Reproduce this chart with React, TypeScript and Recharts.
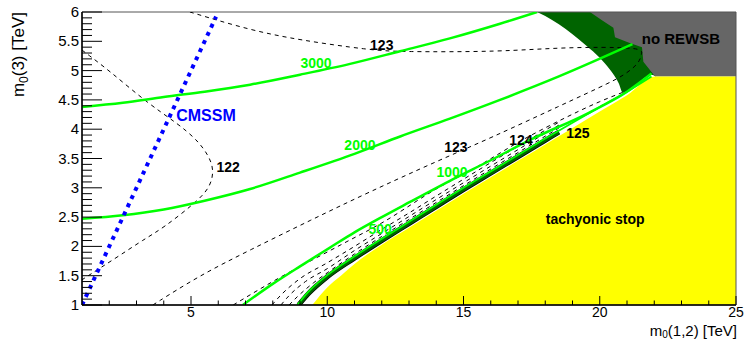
import { ComposedChart, Line, Area, Scatter, XAxis, YAxis, ReferenceArea } from "recharts";

// contours, [m0(1,2), m0(3)] in TeV
const CMSSM = [[1, 1.0], [5.92, 5.92]];

const MH_122 = [
  [1, 5.35], [2, 5.0], [3.39, 4.45], [4.5, 4.1], [5.22, 3.82], [5.65, 3.55], [5.85, 3.3],
  [5.7, 3.0], [5.15, 2.74], [4.0, 2.32], [3.24, 2.11], [2.4, 1.85], [1.66, 1.63], [1, 1.43],
];
const MH_123 = [
  [3.6, 1.0], [5.3, 1.5], [7.17, 1.94], [9.4, 2.45], [11.5, 2.92], [14.1, 3.47], [16, 3.85],
  [18.54, 4.4], [20.5, 4.82], [21.0, 4.96], [21.45, 5.13], [21.55, 5.3], [21.55, 5.4],
  [18.65, 5.4], [16.34, 5.32], [12.67, 5.32], [11.57, 5.35], [9, 5.52], [7.17, 5.69], [4.96, 6.0],
];
const MH_124 = [
  [6.55, 1.0], [8, 1.4], [10.47, 2.02], [12, 2.4], [14, 2.98], [15.5, 3.36], [17.1, 3.8],
  [18.54, 4.15], [20, 4.47], [20.85, 4.63],
];
const MH_125_OUT = [
  [7.97, 1.0], [8.3, 1.17], [9, 1.45], [10, 1.72], [11, 2.0], [12, 2.29], [13, 2.57], [14, 2.86],
  [16, 3.43], [18.5, 4.12],
];
const MH_125_MID = [
  [8.3, 1.0], [8.6, 1.16], [9.2, 1.4], [10, 1.62], [11, 1.93], [12, 2.22], [13, 2.51], [14, 2.8],
  [16, 3.37], [18.5, 4.07],
];
const MH_125_IN = [
  [8.6, 1.0], [8.9, 1.14], [9.5, 1.38], [10, 1.55], [11, 1.87], [12, 2.17], [13, 2.46], [14, 2.75],
  [16, 3.32], [18.5, 4.02],
];
const MH_125_BAND = [
  [8.95, 1.0], [9.3, 1.19], [10, 1.48], [11, 1.8], [12, 2.1], [13, 2.39], [14, 2.68], [15, 2.97],
  [16, 3.25], [17, 3.53], [18, 3.81], [18.5, 3.95],
];

// fine-tuning contours
const FT_3000 = [
  [1, 4.38], [2.5, 4.45], [4, 4.55], [5.5, 4.64], [7.17, 4.76], [9, 4.93], [10.8, 5.11],
  [12.67, 5.33], [14.5, 5.55], [16.34, 5.8], [17.7, 6.0],
];
const FT_2000 = [
  [1, 2.47], [2.5, 2.53], [4, 2.63], [5.5, 2.78], [7.17, 2.98], [9, 3.26], [11, 3.58],
  [12.7, 3.88], [14.5, 4.18], [16.34, 4.5], [18.5, 4.9], [21.2, 5.45],
];
const FT_1000 = [
  [6.9, 1.0], [8, 1.36], [9, 1.66], [10.1, 1.98], [11, 2.24], [12, 2.5], [13, 2.75], [14.5, 3.12],
  [16, 3.47], [17.5, 3.83], [19.6, 4.28], [21, 4.64], [21.9, 4.95],
];
const FT_500 = [
  [8.9, 1.0], [9.25, 1.2], [10, 1.51], [11, 1.83], [12, 2.13], [13, 2.42], [14, 2.71], [15, 3.0],
  [16, 3.28], [17, 3.56], [18, 3.84], [19, 4.11], [20, 4.38], [21, 4.64], [21.9, 4.9],
];

// excluded / highlighted regions
const TACHYONIC_EDGE = [
  [9.45, 1.0], [10, 1.3], [10.5, 1.5], [11, 1.7], [12, 2.03], [13, 2.32], [14, 2.61], [15, 2.9],
  [16, 3.18], [17, 3.46], [18, 3.74], [19, 4.02], [20, 4.3], [21, 4.58], [22.03, 4.9], [25, 4.9],
];
const NO_REWSB_EDGE = [
  [19.64, 6.0], [20.08, 5.86], [20.5, 5.73], [20.56, 5.57], [21.1, 5.47], [21.55, 5.4],
  [21.6, 5.15], [22.03, 4.9], [25, 4.9],
];
const MH_BAND_EDGE = [
  [17.7, 6.0], [18.0, 5.93], [18.5, 5.79], [19.0, 5.62], [19.5, 5.43], [20.0, 5.22], [20.4, 5.0],
  [20.7, 4.78], [20.85, 4.62], [21.3, 4.75], [21.9, 4.93], [22.05, 4.9],
];

const LABELS = [
  { x: 9.59, y: 5.13, text: "3000", color: "#00ff00", size: 14 },
  { x: 11.2, y: 3.73, text: "2000", color: "#00ff00", size: 14 },
  { x: 14.58, y: 3.27, text: "1000", color: "#00ff00", size: 14 },
  { x: 11.94, y: 2.3, text: "500", color: "#00ff00", size: 14 },
  { x: 12.0, y: 5.44, text: "123", color: "#000", size: 14 },
  { x: 14.72, y: 3.7, text: "123", color: "#000", size: 14 },
  { x: 17.11, y: 3.82, text: "124", color: "#000", size: 14 },
  { x: 19.2, y: 3.94, text: "125", color: "#000", size: 14 },
  { x: 6.36, y: 3.36, text: "122", color: "#000", size: 14 },
  { x: 5.55, y: 4.23, text: "CMSSM", color: "#0000ff", size: 16 },
  { x: 22.98, y: 5.54, text: "no REWSB", color: "#000", size: 15 },
  { x: 19.83, y: 2.47, text: "tachyonic stop", color: "#000", size: 14 },
];

const X_MAJOR = [5, 10, 15, 20, 25];
const X_TICK_LABELS = ["5", "10", "15", "20", "25"];
const Y_MAJOR = [1, 1.5, 2, 2.5, 3, 3.5, 4, 4.5, 5, 5.5, 6];
const Y_TICK_LABELS = ["1", "1.5", "2", "2.5", "3", "3.5", "4", "4.5", "5", "5.5", "6"];
const X_TICKS = Array.from({ length: 24 }, (_, i) => i + 2);
const Y_TICKS = Array.from({ length: 50 }, (_, i) => +(1.1 + i * 0.1).toFixed(1)).concat([1]);

const FRAME_LEFT = 82;
const FRAME_BOTTOM = 305;
const FONT = '"Liberation Sans", Arial, Helvetica, sans-serif';

const xy = (a: number[][]) => a.map(([x, y]) => ({ x, y }));
const band = (a: number[][], lo: number | null, hi: number | null) =>
  a.map(([x, y]) => ({ x, r: [lo ?? y, hi ?? y] }));

const YTick = (props: any) => {
  const v = props.payload.value;
  const y = props.payload.coordinate;
  const i = Y_MAJOR.indexOf(v);
  return (
    <g>
      <line x1={FRAME_LEFT} x2={FRAME_LEFT + (i >= 0 ? 20 : 10)} y1={y} y2={y} stroke="#000" />
      {i >= 0 && (
        <text x={79} y={y + 5} textAnchor="end" fontSize={15} fontFamily={FONT} fill="#000">
          {Y_TICK_LABELS[i]}
        </text>
      )}
    </g>
  );
};

const XTick = (props: any) => {
  const v = props.payload.value;
  const x = props.payload.coordinate;
  const i = X_MAJOR.indexOf(v);
  return (
    <g>
      <line x1={x} x2={x} y1={FRAME_BOTTOM} y2={FRAME_BOTTOM - (i >= 0 ? 9 : 4.5)} stroke="#000" />
      {i >= 0 && (
        <text x={x} y={317} textAnchor="middle" fontSize={14} fontFamily={FONT} fill="#000">
          {X_TICK_LABELS[i]}
        </text>
      )}
    </g>
  );
};

const XTitle = () => (
  <text x={737} y={336} textAnchor="end" fontSize={15} fontFamily={FONT} fill="#000">
    m<tspan dy={2} fontSize={10}>0</tspan>
    <tspan dy={-2}>(1,2) [TeV]</tspan>
  </text>
);

const YTitle = () => (
  <text
    x={24}
    y={12}
    transform="rotate(-90, 24, 12)"
    textAnchor="end"
    fontSize={17}
    fontFamily={FONT}
    fill="#000"
  >
    m<tspan dy={4} fontSize={12}>0</tspan>
    <tspan dy={-4}>(3) [TeV]</tspan>
  </text>
);

const TextMark = (p: any) => (
  <text
    x={p.cx}
    y={p.cy + p.payload.size * 0.36}
    textAnchor="middle"
    fontSize={p.payload.size}
    fontWeight="bold"
    fontFamily={FONT}
    fill={p.payload.color}
  >
    {p.payload.text}
  </text>
);

const dashed = { stroke: "#000", strokeWidth: 1, strokeDasharray: "4 4" };
const green = { stroke: "#00ff00", strokeWidth: 2.5 };

export default function App() {
  const line = (key: string, data: number[][], style: any, type: any = "monotone") => (
    <Line
      key={key}
      data={xy(data)}
      dataKey="y"
      type={type}
      dot={false}
      activeDot={false}
      isAnimationActive={false}
      {...style}
    />
  );

  return (
    <div style={{ position: "absolute", left: 0, top: 0, width: 744, height: 340, background: "#fff" }}>
      <ComposedChart width={744} height={340} margin={{ top: 12, right: 8, bottom: 0, left: 0 }}>
        <XAxis
          type="number"
          dataKey="x"
          domain={[1, 25]}
          ticks={X_TICKS}
          interval={0}
          allowDataOverflow
          height={35}
          tickLine={false}
          axisLine={{ stroke: "#000", strokeWidth: 1.5 }}
          tick={<XTick />}
          label={<XTitle />}
        />
        <YAxis
          type="number"
          domain={[1, 6]}
          ticks={Y_TICKS}
          interval={0}
          allowDataOverflow
          width={82}
          tickLine={false}
          axisLine={{ stroke: "#000", strokeWidth: 1.5 }}
          tick={<YTick />}
          label={<YTitle />}
        />
        <Area
          data={band(MH_BAND_EDGE, null, 6)}
          dataKey="r"
          type="monotone"
          stroke="none"
          fill="#006400"
          fillOpacity={1}
          isAnimationActive={false}
        />
        <Area
          data={band(NO_REWSB_EDGE, null, 6)}
          dataKey="r"
          type="linear"
          stroke="none"
          fill="#666666"
          fillOpacity={1}
          isAnimationActive={false}
        />
        <Area
          data={band(TACHYONIC_EDGE, 1, null)}
          dataKey="r"
          type="monotone"
          stroke="none"
          fill="#ffff00"
          fillOpacity={1}
          isAnimationActive={false}
        />
        {line("band-o", MH_125_BAND, { stroke: "#000", strokeWidth: 5 })}
        {line("band", MH_125_BAND, { stroke: "#006400", strokeWidth: 3.5 })}
        {line("ft500", FT_500, { stroke: "#00ff00", strokeWidth: 1.8 })}
        {line("mh122", MH_122, dashed, "basis")}
        {line("mh123", MH_123, dashed, "basis")}
        {line("mh124", MH_124, dashed)}
        {line("mh125a", MH_125_OUT, dashed)}
        {line("mh125b", MH_125_MID, dashed)}
        {line("mh125c", MH_125_IN, dashed)}
        {line("ft3000", FT_3000, green)}
        {line("ft2000", FT_2000, green)}
        {line("ft1000", FT_1000, green)}
        {line("cmssm", CMSSM, { stroke: "#0000ff", strokeWidth: 4, strokeDasharray: "4 5" }, "linear")}
        <Scatter data={LABELS} dataKey="y" isAnimationActive={false} shape={<TextMark />} />
        <ReferenceArea x1={1} x2={25} y1={1} y2={6} fill="none" stroke="#555" strokeWidth={1} />
      </ComposedChart>
    </div>
  );
}
